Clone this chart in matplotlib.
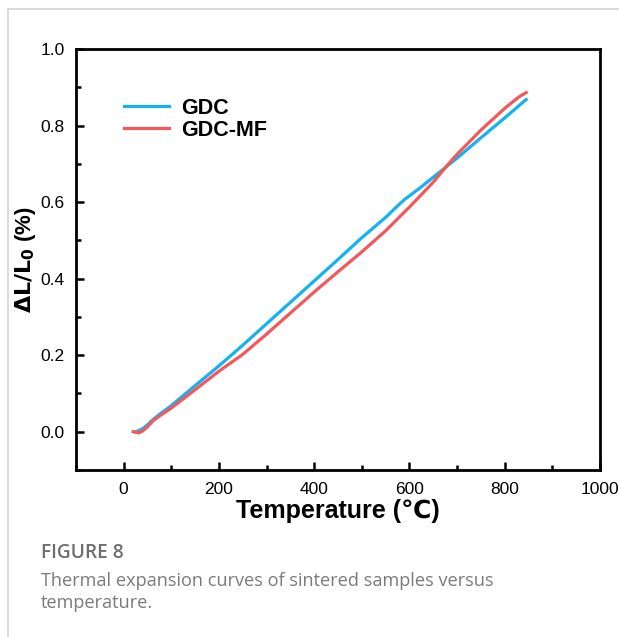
import matplotlib
matplotlib.use("Agg")
import matplotlib.pyplot as plt
from matplotlib.ticker import MultipleLocator
from matplotlib.lines import Line2D

# curvas de expansion termica
temp_gdc = [25, 30, 40, 50, 60, 80, 100, 140, 200, 250, 300, 350, 400, 450,
            500, 550, 575, 590, 620, 650, 680, 700, 750, 800, 845]
dl_gdc = [0.0, 0.002, 0.008, 0.018, 0.030, 0.050, 0.068, 0.110, 0.172, 0.226,
          0.282, 0.338, 0.394, 0.450, 0.507, 0.560, 0.590, 0.607, 0.635, 0.665,
          0.695, 0.715, 0.768, 0.820, 0.868]

temp_mf = [20, 25, 32, 40, 50, 63, 80, 100, 140, 200, 250, 300, 350, 400, 450,
           500, 550, 583, 600, 650, 680, 700, 750, 800, 830, 845]
dl_mf = [0.0, -0.001, -0.003, 0.002, 0.013, 0.030, 0.045, 0.062, 0.100, 0.158,
         0.202, 0.255, 0.310, 0.365, 0.418, 0.470, 0.525, 0.566, 0.587, 0.652,
         0.697, 0.725, 0.788, 0.845, 0.875, 0.886]

series_names = ["GDC", "GDC-MF"]
xticks = [0, 200, 400, 600, 800, 1000]
yticks = [0.0, 0.2, 0.4, 0.6, 0.8, 1.0]

fuente = ["Liberation Sans", "DejaVu Sans"]

fig = plt.figure(figsize=(6.19, 6.37), dpi=100)
ax = fig.add_axes([76 / 619, 1 - 470 / 637, 524 / 619, 421 / 637])

ax.plot(temp_gdc, dl_gdc, color="#14b2f0", lw=2.3, label=series_names[0])
ax.plot(temp_mf, dl_mf, color="#f5585a", lw=2.3, label=series_names[1])

ax.set_xlim(-100, 1000)
ax.set_ylim(-0.1, 1.0)
ax.set_xticks(xticks)
ax.set_yticks(yticks)
ax.set_yticklabels([f"{v:.1f}" for v in yticks])
ax.xaxis.set_minor_locator(MultipleLocator(100))
ax.yaxis.set_minor_locator(MultipleLocator(0.1))
ax.tick_params(which="both", direction="in", top=False, right=False, width=1.8)
ax.tick_params(which="major", length=6, labelsize=12.5)
ax.tick_params(axis="x", which="major", pad=9)
ax.tick_params(axis="y", which="major", pad=8)
ax.tick_params(which="minor", length=3.5)
for lbl in ax.get_xticklabels() + ax.get_yticklabels():
    lbl.set_family(fuente)
for s in ax.spines.values():
    s.set_linewidth(2.0)

ax.set_xlabel("Temperature (\u2103)", fontsize=18, fontweight="bold", family=fuente, labelpad=1)
ax.set_ylabel(r"$\mathbf{\Delta L/L_0}$ (%)", fontsize=16, fontweight="bold", family=fuente, labelpad=2)

leg = ax.legend(loc="upper left", bbox_to_anchor=(0.055, 0.93), frameon=False,
                handlelength=2.1, handletextpad=0.55, labelspacing=0.05,
                prop={"family": fuente, "weight": "bold", "size": 15.5})

# borde de la tarjeta
fig.add_artist(Line2D([8 / 619, 1.0], [1 - 9 / 637] * 2, color="#d4d4d4", lw=1.2))
fig.add_artist(Line2D([8 / 619] * 2, [0.0, 1 - 9 / 637], color="#d4d4d4", lw=1.2))

# pie de figura
fig.text(41 / 619, 1 - 553 / 637, "FIGURE 8", fontsize=13.8, fontweight="semibold",
         color="#6e6e6e", family=["Open Sans", "DejaVu Sans"], va="center")
fig.text(41 / 619, 1 - 592 / 637,
         "Thermal expansion curves of sintered samples versus\ntemperature.",
         fontsize=13.1, color="#7a7a7a", family=["Open Sans", "DejaVu Sans"],
         va="center", linespacing=1.3)

fig.savefig("out.png", dpi=100)
